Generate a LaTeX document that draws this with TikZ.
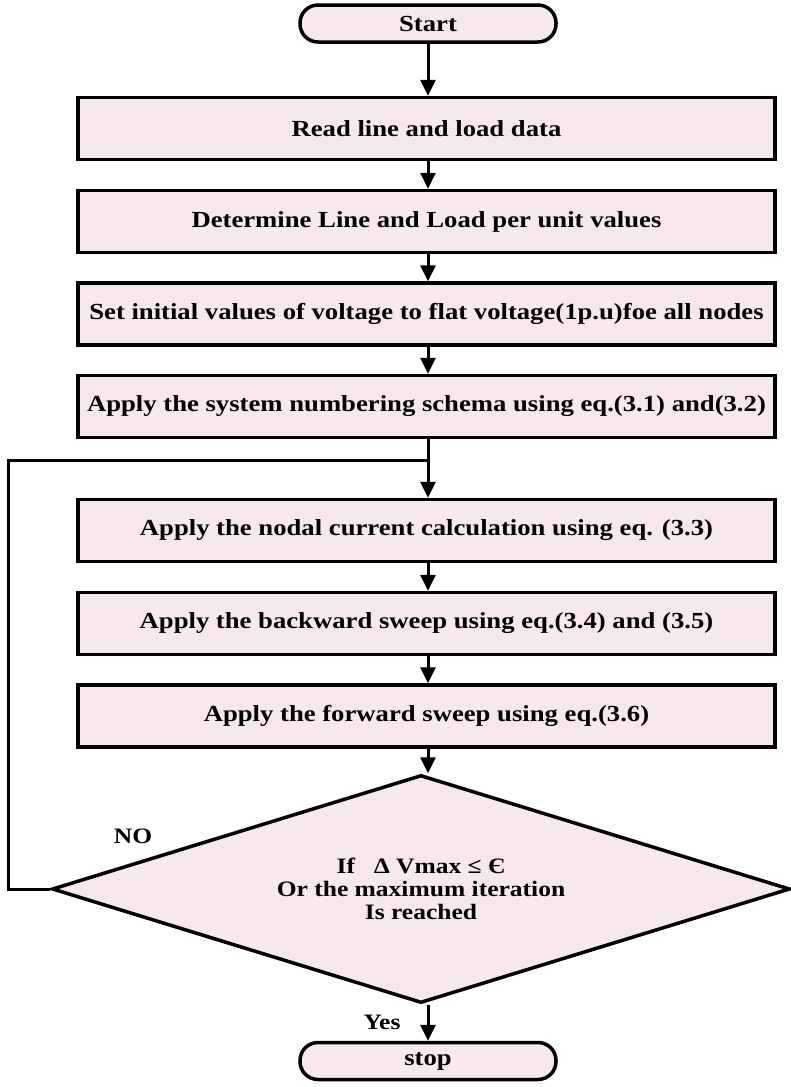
\documentclass[tikz,border=0pt]{standalone}
\usepackage{fontspec}
\setmainfont[FakeStretch=1.16]{Liberation Serif}
\usetikzlibrary{arrows.meta,shapes.geometric}
\definecolor{boxfill}{RGB}{246,232,237}
\tikzset{
  procbox/.style={draw=black, line width=3.5pt, fill=boxfill, minimum width=697pt, minimum height=62pt, inner sep=0pt, font=\fontsize{23}{26}\selectfont\bfseries},
  termbox/.style={draw=black, line width=3.5pt, fill=boxfill, rounded corners=18pt, minimum width=256pt, minimum height=37pt, inner sep=0pt, font=\fontsize{23}{26}\selectfont\bfseries},
  decbox/.style={draw=black, line width=3.5pt, fill=boxfill, shape=diamond, aspect=3.2, minimum width=738pt, minimum height=228pt, inner sep=0pt, align=center, font=\fontsize{22}{23}\selectfont\bfseries},
  flow/.style={line width=3pt, -{Triangle[length=16pt,width=15pt]}},
  lbl/.style={font=\fontsize{22}{25}\selectfont\bfseries, inner sep=0pt}
}
\begin{document}
\begin{tikzpicture}[x=1pt,y=-1pt]
\useasboundingbox (0,0) rectangle (791,1087);
\node[termbox] (start) at (428,23.5) {Start};
\node[procbox] (b1) at (426.5,128.5) {Read line and load data};
\node[procbox] (b2) at (426.5,221.5) {Determine Line and Load per unit values};
\node[procbox] (b3) at (426.5,314) {Set initial values of voltage to flat voltage(1p.u)foe all nodes};
\node[procbox] (b4) at (426.5,406.5) {Apply the system numbering schema using eq.(3.1) and(3.2)};
\node[procbox] (b5) at (426.5,530.5) {Apply the nodal current calculation using eq. (3.3)};
\node[procbox] (b6) at (426.5,623.5) {Apply the backward sweep using eq.(3.4) and (3.5)};
\node[procbox] (b7) at (426.5,716) {Apply the forward sweep using eq.(3.6)};
\node[decbox] (dec) at (421,889) {If~~ ∆ Vmax ≤ Є\\Or the maximum iteration\\Is reached};
\node[termbox] (stop) at (428,1061) {stop};
\coordinate (j) at (428,460);
\coordinate (fl) at (8,889);
\coordinate (ft) at (8,460);
\draw[flow] (start.south -| 428,0) -- (b1.north -| 428,0);
\draw[flow] (b1.south -| 428,0) -- (b2.north -| 428,0);
\draw[flow] (b2.south -| 428,0) -- (b3.north -| 428,0);
\draw[flow] (b3.south -| 428,0) -- (b4.north -| 428,0);
\draw[flow] (b4.south -| 428,0) -- (b5.north -| 428,0);
\draw[flow] (b5.south -| 428,0) -- (b6.north -| 428,0);
\draw[flow] (b6.south -| 428,0) -- (b7.north -| 428,0);
\draw[flow] (b7.south -| 428,0) -- (dec.north -| 428,0);
\draw[flow] (dec.south -| 428,0) -- (stop.north -| 428,0);
\draw[line width=3pt, line join=miter] (dec.west) -- (fl) -- (ft) -- (j);
\node[lbl] (no) at (133,836) {NO};
\node[lbl] (yes) at (382,1022) {Yes};
\end{tikzpicture}
\end{document}
